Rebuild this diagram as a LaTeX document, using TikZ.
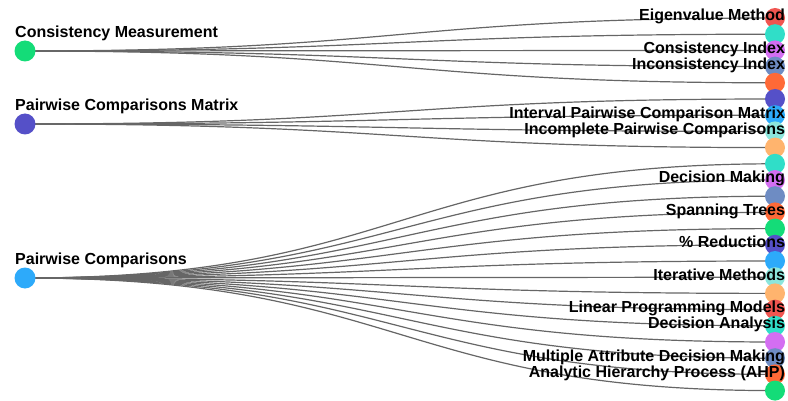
\documentclass[tikz,border=0pt]{standalone}
\usepackage{fontspec}
\setmainfont{Liberation Sans}
\pgfdeclarelayer{bg}
\pgfsetlayers{bg,main}
\definecolor{cRed}{HTML}{F05550}
\definecolor{cTeal}{HTML}{30DEC8}
\definecolor{cPurple}{HTML}{D46EF2}
\definecolor{cSlate}{HTML}{6E8CC3}
\definecolor{cOrange}{HTML}{FF6937}
\definecolor{cIndigo}{HTML}{5550C8}
\definecolor{cSky}{HTML}{2DAAFA}
\definecolor{cMint}{HTML}{8CE6DC}
\definecolor{cPeach}{HTML}{FFB46E}
\definecolor{cGreen}{HTML}{14DC78}
\definecolor{cLink}{HTML}{666666}
\tikzset{
	dot/.style={circle,inner sep=0pt,minimum size=20pt},
	topic/.style={anchor=base west,inner sep=0pt,font=\fontsize{16pt}{19pt}\selectfont\bfseries},
	kw/.style={anchor=base east,inner sep=0pt,font=\fontsize{16pt}{19pt}\selectfont\bfseries},
	link/.style={draw=cLink,line width=1.2pt}
}
\begin{document}
\begin{tikzpicture}[x=1pt,y=-1pt]
	\useasboundingbox (0,0) rectangle (788,401);
	% topics
	\node[dot,minimum size=21pt,fill=cGreen] (cm) at (25,51) {};
	\node[dot,minimum size=21pt,fill=cIndigo] (pcm) at (25,124) {};
	\node[dot,minimum size=21pt,fill=cSky] (pc) at (25,278) {};
	\node[topic] (cmlab) at (15,37.5) {Consistency Measurement};
	\node[topic] (pcmlab) at (15,110.5) {Pairwise Comparisons Matrix};
	\node[topic] (pclab) at (15,264.5) {Pairwise Comparisons};
	% keywords
	\foreach \c [count=\i from 0] in {cRed,cTeal,cPurple,cSlate,cOrange,cIndigo,cSky,cMint,cPeach,
		cTeal,cPurple,cSlate,cOrange,cGreen,cIndigo,cSky,cMint,cPeach,cRed,cTeal,cPurple,cSlate,cOrange,cGreen}
		\node[dot,fill=\c] (r\i) at (775,{18+16.2*\i}) {};
	% links
	\begin{pgfonlayer}{bg}
	\foreach \i in {0,...,4}
		\draw[link] (cm.center) .. controls +(375,0) and +(-375,0) .. (r\i.center);
	\foreach \i in {5,...,8}
		\draw[link] (pcm.center) .. controls +(375,0) and +(-375,0) .. (r\i.center);
	\foreach \i in {9,...,23}
		\draw[link] (pc.center) .. controls +(375,0) and +(-375,0) .. (r\i.center);
	\end{pgfonlayer}
	% keyword labels
	\foreach \i/\t in {0/Eigenvalue Method,2/Consistency Index,3/Inconsistency Index,6/Interval Pairwise Comparison Matrix,
		7/Incomplete Pairwise Comparisons,10/Decision Making,12/Spanning Trees,14/\% Reductions,
		16/Iterative Methods,18/Linear Programming Models,19/Decision Analysis,
		21/Multiple Attribute Decision Making,22/Analytic Hierarchy Process (AHP)}
		\node[kw] (l\i) at ([yshift=-3pt]r\i.east) {\t};
\end{tikzpicture}
\end{document}
